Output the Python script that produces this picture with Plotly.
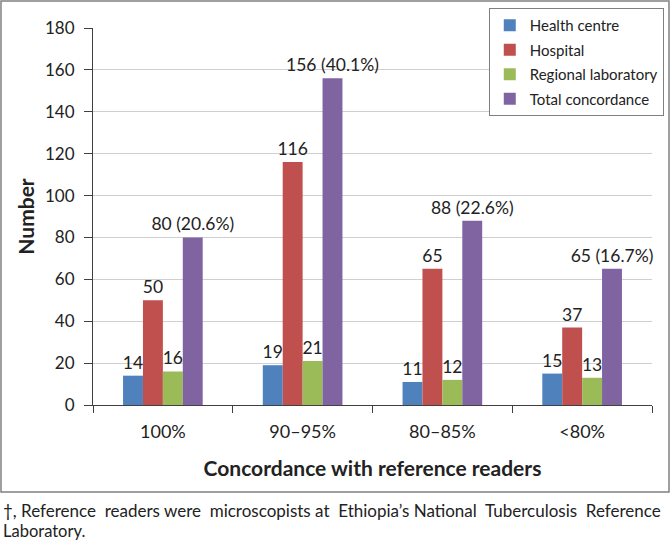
import plotly.graph_objects as go

categories = ["100%", "90–95%", "80–85%", "<80%"]
health_centre = [14, 19, 11, 15]
hospital = [50, 116, 65, 37]
regional_lab = [16, 21, 12, 13]
total = [80, 156, 88, 65]
total_pct = ["20.6%", "40.1%", "22.6%", "16.7%"]

series_names = ["Health centre", "Hospital", "Regional laboratory", "Total concordance"]
colors = ["#4F81BD", "#C0504D", "#9BBB59", "#8064A2"]
y_ticks = [0, 20, 40, 60, 80, 100, 120, 140, 160, 180]
footnote_words = ["†,", "Reference", "readers", "were", "microscopists", "at",
                  "Ethiopia’s", "National", "Tuberculosis", "Reference"]
footnote_last = "Laboratory."

FONT = "Lato"
TXT = "#222222"

fig = go.Figure()
all_vals = [health_centre, hospital, regional_lab, total]
for i, (name, vals, col) in enumerate(zip(series_names, all_vals, colors)):
    if i == 3:
        labels = [f"{v} ({p})" for v, p in zip(vals, total_pct)]
    else:
        labels = [str(v) for v in vals]
    fig.add_trace(go.Bar(
        x=categories, y=vals, name=name, legendgroup=name,
        marker=dict(color=col, line=dict(width=0)),
        text=labels, textposition="outside", cliponaxis=False,
        constraintext="none",
        textfont=dict(family=FONT, size=17.5, color=TXT),
    ))

fig.update_layout(
    width=670, height=542,
    paper_bgcolor="white", plot_bgcolor="white",
    barmode="group", bargap=0.43, bargroupgap=0,
    margin=dict(l=93, r=18, t=28, b=137, autoexpand=False),
    font=dict(family=FONT, size=16, color=TXT),
    showlegend=True,
    legend=dict(
        x=0.708, y=1.053, xanchor="left", yanchor="top",
        bgcolor="white", bordercolor="#7f7f7f", borderwidth=1,
        font=dict(family=FONT, size=15, color=TXT),
        tracegroupgap=2, itemwidth=30,
    ),
    xaxis=dict(
        type="category", showline=True, linecolor="#404040", linewidth=1,
        ticks="outside", ticklen=7, tickcolor="#404040", tickson="boundaries",
        ticklabelstandoff=10,
        tickfont=dict(family=FONT, size=18, color=TXT),
        title=dict(text="<b>Concordance with reference readers</b>",
                   font=dict(family=FONT, size=21, color=TXT), standoff=20),
        showgrid=False,
    ),
    yaxis=dict(
        range=[0, 180], tickvals=y_ticks, showline=True, linecolor="#404040",
        linewidth=1, ticks="outside", ticklen=8, tickcolor="#404040",
        ticklabelstandoff=6,
        showgrid=True, gridcolor="#cfcfcf", gridwidth=1, zeroline=False,
        tickfont=dict(family=FONT, size=17, color=TXT),
        title=dict(text="<b>Number</b>", font=dict(family=FONT, size=21, color=TXT),
                   standoff=4),
    ),
)

# outer frame
fig.add_shape(type="rect", xref="paper", yref="paper",
              x0=-0.1646, x1=1.0304, y0=-0.2308, y1=1.0716,
              line=dict(color="#808080", width=1.5), layer="below")

# justified-looking first footnote line: widen some word gaps with non-breaking spaces
wide, narrow = " \u00a0", " "
gaps = [narrow, wide, narrow, wide, narrow, wide, narrow, wide, wide]
line1 = footnote_words[0] + "".join(g + w for g, w in zip(gaps, footnote_words[1:]))
fig.add_annotation(
    xref="paper", yref="paper", x=-0.1646, y=-0.2798, xanchor="left", yanchor="middle",
    align="left", showarrow=False, text=line1,
    font=dict(family=FONT, size=17, color=TXT),
)
fig.add_annotation(
    xref="paper", yref="paper", x=-0.1646, y=-0.3342, xanchor="left", yanchor="middle",
    align="left", showarrow=False, text=footnote_last,
    font=dict(family=FONT, size=16.5, color=TXT),
)

fig.write_html("out.html", config={"displayModeBar": False},
               post_script="document.body.style.margin='0';document.body.style.padding='0';")
